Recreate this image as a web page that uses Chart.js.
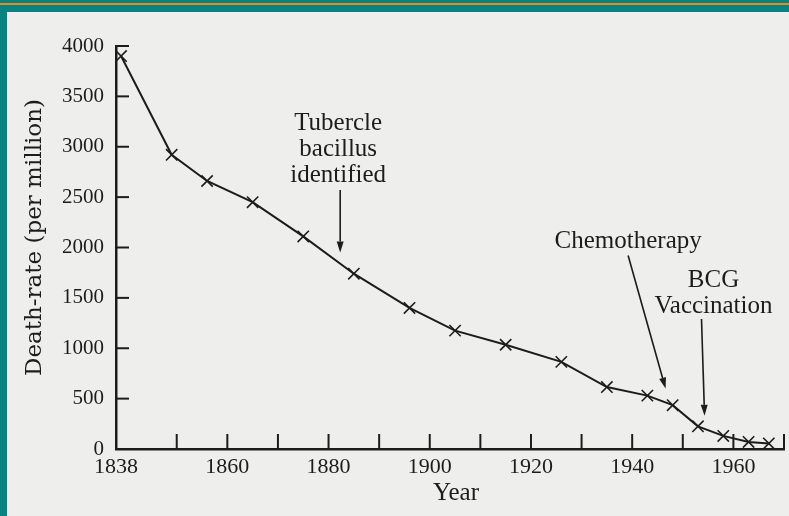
<!DOCTYPE html>
<html>
<head>
<meta charset="utf-8">
<script src="https://cdn.jsdelivr.net/npm/chart.js@4"></script>
<style>
  html, body { margin: 0; padding: 0; }
  body { width: 789px; height: 516px; background: #0a8282; position: relative; overflow: hidden; }
  #stripe { position: absolute; left: 0; top: 3px; width: 789px; height: 2px; background: #e8891a; }
  #paper { position: absolute; left: 7px; top: 12px; width: 782px; height: 504px; background: #eeeeec; }
</style>
</head>
<body>
<div id="stripe"></div>
<div id="paper"><canvas id="lineChart" width="782" height="504"></canvas></div>
<script>
// Tuberculosis death-rate, England and Wales
const years = [1839, 1849, 1856, 1865, 1875, 1885, 1896, 1905, 1915, 1926, 1935, 1943, 1948, 1953, 1958, 1963, 1967]
const deathRate = [3900, 2920, 2660, 2450, 2110, 1740, 1400, 1175, 1035, 865, 615, 530, 435, 225, 130, 70, 55]

const yTicks = [0, 500, 1000, 1500, 2000, 2500, 3000, 3500, 4000]
const xTicks = [1838, 1850, 1860, 1870, 1880, 1890, 1900, 1910, 1920, 1930, 1940, 1950, 1960, 1970]
const xLabels = [1838, 1860, 1880, 1900, 1920, 1940, 1960]

// annotations: text lines, arrow tail and tip as [year, death-rate]
const noteText = [['Tubercle', 'bacillus', 'identified'], ['Chemotherapy'], ['BCG', 'Vaccination']]
const noteTail = [[1882.3, 2570], [1939.2, 1920], [1953.7, 1290]]
const noteTip = [[1882.3, 1950], [1946.6, 600], [1954.3, 330]]

const ink = '#1c1c1c'
const serif = "'Liberation Serif', 'Times New Roman', serif"
const noteShift = [[-2, 8], [0, 8], [12, 6]]

function arrow(ctx, x1, y1, x2, y2) {
  const ang = Math.atan2(y2 - y1, x2 - x1)
  const hl = 11, hw = 3.5
  const bx = x2 - Math.cos(ang) * hl, by = y2 - Math.sin(ang) * hl
  ctx.beginPath()
  ctx.moveTo(x1, y1)
  ctx.lineTo(bx, by)
  ctx.stroke()
  ctx.beginPath()
  ctx.moveTo(x2, y2)
  ctx.lineTo(bx + Math.sin(ang) * hw, by - Math.cos(ang) * hw)
  ctx.lineTo(bx - Math.sin(ang) * hw, by + Math.cos(ang) * hw)
  ctx.closePath()
  ctx.fill()
}

const paperMarks = {
  id: 'paperMarks',
  afterDraw(chart) {
    const {ctx, chartArea: a, scales: {x, y}} = chart
    ctx.save()
    ctx.strokeStyle = ink
    ctx.fillStyle = ink
    ctx.lineWidth = 2

    // tick marks point into the plot
    xTicks.forEach(v => {
      if (v === 1838) return
      const px = x.getPixelForValue(v)
      ctx.beginPath(); ctx.moveTo(px, a.bottom); ctx.lineTo(px, a.bottom - 15); ctx.stroke()
    })
    yTicks.forEach(v => {
      if (v === 0) return
      const py = y.getPixelForValue(v)
      ctx.beginPath(); ctx.moveTo(a.left, py); ctx.lineTo(a.left + 13, py); ctx.stroke()
    })

    // axis titles
    ctx.textAlign = 'center'
    ctx.textBaseline = 'alphabetic'
    ctx.font = '25px ' + serif
    ctx.fillText('Year', (a.left + a.right) / 2 + 6, a.bottom + 51)
    ctx.save()
    ctx.translate(a.left - 81, (a.top + a.bottom) / 2 - 10)
    ctx.rotate(-Math.PI / 2)
    ctx.textBaseline = 'middle'
    ctx.font = "23px 'DejaVu Serif', serif"
    ctx.fillText('Death-rate (per million)', 0, 0)
    ctx.restore()

    // annotations with arrows
    ctx.lineWidth = 1.6
    ctx.font = '25px ' + serif
    noteText.forEach((lines, i) => {
      const tx = x.getPixelForValue(noteTail[i][0]), ty = y.getPixelForValue(noteTail[i][1])
      const hx = x.getPixelForValue(noteTip[i][0]), hy = y.getPixelForValue(noteTip[i][1])
      arrow(ctx, tx, ty, hx, hy)
      const cx = tx + noteShift[i][0]
      let base = ty - noteShift[i][1]
      for (let k = lines.length - 1; k >= 0; k--) {
        ctx.fillText(lines[k], cx, base)
        base -= 26
      }
    })
    ctx.restore()
  }
}

const points = years.map((yr, i) => ({x: yr, y: deathRate[i]}))

const ctx = document.getElementById('lineChart').getContext('2d')
new Chart(ctx, {
  type: 'line',
  data: {
    datasets: [{
      data: points,
      borderColor: ink,
      borderWidth: 2,
      tension: 0,
      fill: false,
      clip: false,
      pointStyle: 'crossRot',
      pointRadius: 8,
      pointBorderWidth: 1.6,
      pointBorderColor: ink,
      pointBackgroundColor: ink
    }]
  },
  options: {
    responsive: false,
    animation: false,
    devicePixelRatio: 1,
    layout: {autoPadding: false, padding: {top: 34, right: -6, left: 0, bottom: 0}},
    plugins: {legend: {display: false}, tooltip: {enabled: false}},
    scales: {
      x: {
        type: 'linear',
        min: 1838,
        max: 1970,
        grid: {display: false, drawTicks: false},
        border: {color: ink, width: 2.5},
        afterBuildTicks: s => { s.ticks = xTicks.map(v => ({value: v})) },
        afterFit: s => { s.height = 67 },
        ticks: {
          autoSkip: false,
          maxRotation: 0,
          padding: 5,
          color: ink,
          font: {family: serif, size: 22},
          callback: v => xLabels.includes(v) ? String(v) : ''
        }
      },
      y: {
        min: 0,
        max: 4000,
        grid: {display: false, drawTicks: false},
        border: {color: ink, width: 2.5},
        afterBuildTicks: s => { s.ticks = yTicks.map(v => ({value: v})) },
        afterFit: s => { s.width = 109 },
        ticks: {
          padding: 12,
          color: ink,
          font: {family: serif, size: 21},
          callback: v => String(v)
        }
      }
    }
  },
  plugins: [paperMarks]
})
</script>
</body>
</html>
